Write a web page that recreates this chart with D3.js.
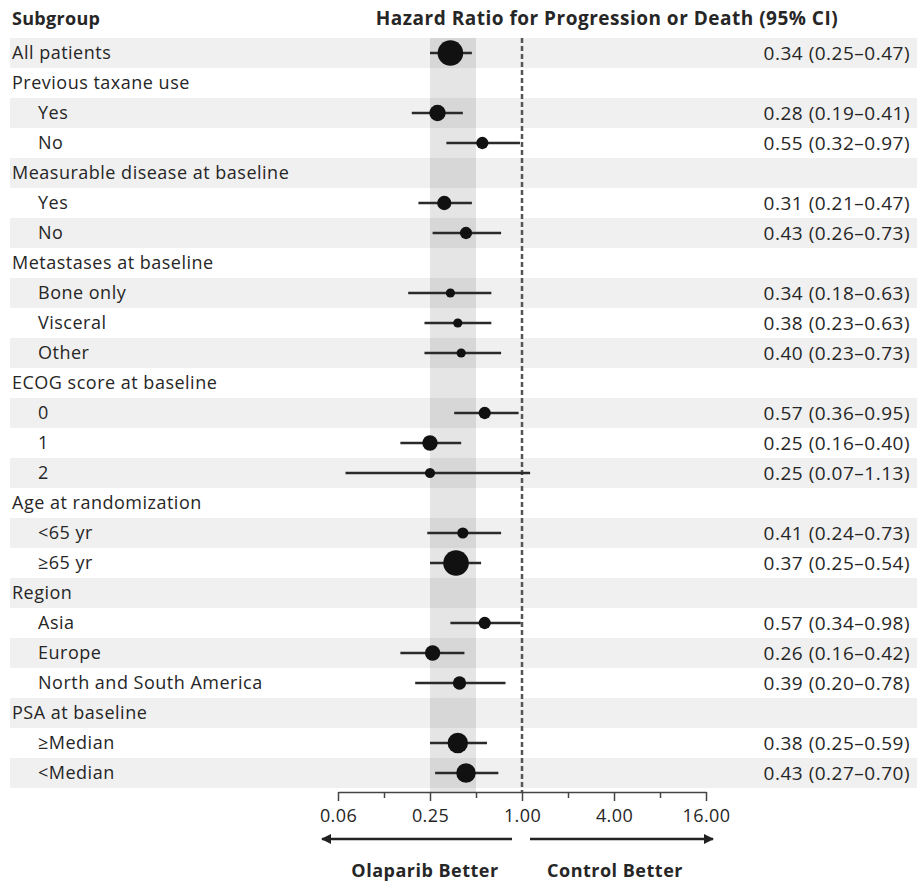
<!DOCTYPE html>
<html>
<head>
<meta charset="utf-8">
<script src="https://cdn.jsdelivr.net/npm/d3@7"></script>
<style>
  body { margin: 0; background: #fff; }
  text { font-family: "Open Sans", sans-serif; fill: #262626; }
</style>
</head>
<body>
<svg></svg>
<script>
// rows of the forest plot, top to bottom
var labels = ['All patients', 'Previous taxane use', 'Yes', 'No', 'Measurable disease at baseline', 'Yes', 'No',
  'Metastases at baseline', 'Bone only', 'Visceral', 'Other', 'ECOG score at baseline', '0', '1', '2',
  'Age at randomization', '<65 yr', '\u226565 yr', 'Region', 'Asia', 'Europe', 'North and South America',
  'PSA at baseline', '\u2265Median', '<Median'];
var levels = [0, 0, 1, 1, 0, 1, 1, 0, 1, 1, 1, 0, 1, 1, 1, 0, 1, 1, 0, 1, 1, 1, 0, 1, 1];
var hr    = [0.34, null, 0.28, 0.55, null, 0.31, 0.43, null, 0.34, 0.38, 0.40, null, 0.57, 0.25, 0.25, null, 0.41, 0.37, null, 0.57, 0.26, 0.39, null, 0.38, 0.43];
var lower = [0.25, null, 0.19, 0.32, null, 0.21, 0.26, null, 0.18, 0.23, 0.23, null, 0.36, 0.16, 0.07, null, 0.24, 0.25, null, 0.34, 0.16, 0.20, null, 0.25, 0.27];
var upper = [0.47, null, 0.41, 0.97, null, 0.47, 0.73, null, 0.63, 0.63, 0.73, null, 0.95, 0.40, 1.13, null, 0.73, 0.54, null, 0.98, 0.42, 0.78, null, 0.59, 0.70];
// relative weight of each subgroup (marker area)
var weights = [100, null, 41, 23, null, 31, 23, null, 13, 13, 13, null, 23, 36, 16, null, 19, 100, null, 23, 36, 27, null, 64, 58];
var tickValues = [0.0625, 0.125, 0.25, 0.5, 1, 2, 4, 8, 16];
var tickLabels = ['0.06', '', '0.25', '', '1.00', '', '4.00', '', '16.00'];

var width = 917, height = 882;
var rows = labels.map(function(l, i) {
  return {i: i, label: l, level: levels[i], hr: hr[i], lo: lower[i], hi: upper[i], w: weights[i]};
});

var svg = d3.select('svg').attr('width', width).attr('height', height);

var x = d3.scaleLog().base(2).domain([0.0625, 16]).range([338, 706]);
var y = d3.scaleBand().domain(d3.range(rows.length)).range([38, 38 + rows.length * 30]);
var r = d3.scaleSqrt().domain([0, 100]).range([0, 12.8]);
var axisY = 792;
var fmt = d3.format('.2f');

// striped rows
svg.append('g').selectAll('rect')
  .data(rows.filter(function(d) { return d.i % 2 === 0; }))
  .enter().append('rect')
    .attr('x', 10)
    .attr('y', function(d) { return y(d.i); })
    .attr('width', width - 10)
    .attr('height', y.bandwidth())
    .attr('fill', '#f0f0f0');

// shaded band 0.25 - 0.5
svg.append('rect')
  .attr('x', x(0.25))
  .attr('y', y(0))
  .attr('width', x(0.5) - x(0.25))
  .attr('height', axisY - y(0))
  .attr('fill', '#000')
  .attr('fill-opacity', 0.1);

// reference line at 1
svg.append('line')
  .attr('x1', x(1)).attr('x2', x(1))
  .attr('y1', y(0)).attr('y2', axisY)
  .attr('stroke', '#555')
  .attr('stroke-width', 2.5)
  .attr('stroke-dasharray', '5,3');

// headers
svg.append('text')
  .text('Subgroup')
  .attr('x', 12).attr('y', 25)
  .style('font-weight', 'bold').style('font-size', '18px').style('letter-spacing', '0.3px');

svg.append('text')
  .text('Hazard Ratio for Progression or Death (95% CI)')
  .attr('x', 607).attr('y', 25)
  .attr('text-anchor', 'middle')
  .style('font-weight', 'bold').style('font-size', '19px').style('letter-spacing', '0.5px');

// labels
svg.append('g').selectAll('text')
  .data(rows)
  .enter().append('text')
    .text(function(d) { return d.label; })
    .attr('x', function(d) { return d.level ? 38 : 12; })
    .attr('y', function(d) { return y(d.i) + y.bandwidth() / 2; })
    .attr('dy', '0.36em')
    .style('font-size', '18px')
    .style('letter-spacing', '0.5px');

var est = rows.filter(function(d) { return d.hr !== null; });

// values column
svg.append('g').selectAll('text')
  .data(est)
  .enter().append('text')
    .text(function(d) { return fmt(d.hr) + ' (' + fmt(d.lo) + '\u2013' + fmt(d.hi) + ')'; })
    .attr('x', 910)
    .attr('y', function(d) { return y(d.i) + y.bandwidth() / 2; })
    .attr('dy', '0.36em')
    .attr('text-anchor', 'end')
    .style('font-size', '19px')
    .style('letter-spacing', '0.5px');

// confidence intervals
svg.append('g').selectAll('line')
  .data(est)
  .enter().append('line')
    .attr('x1', function(d) { return x(d.lo); })
    .attr('x2', function(d) { return x(d.hi); })
    .attr('y1', function(d) { return y(d.i) + y.bandwidth() / 2; })
    .attr('y2', function(d) { return y(d.i) + y.bandwidth() / 2; })
    .attr('stroke', '#2a2a2a')
    .attr('stroke-width', 2.5);

// point estimates
svg.append('g').selectAll('circle')
  .data(est)
  .enter().append('circle')
    .attr('cx', function(d) { return x(d.hr); })
    .attr('cy', function(d) { return y(d.i) + y.bandwidth() / 2; })
    .attr('r', function(d) { return r(d.w); })
    .attr('fill', '#111');

// axis
var axis = svg.append('g')
  .attr('transform', 'translate(0,' + axisY + ')')
  .call(d3.axisBottom(x)
    .tickValues(tickValues)
    .tickFormat(function(d, i) { return tickLabels[i]; })
    .tickSizeOuter(0)
    .tickPadding(6));

axis.select('.domain').attr('stroke', '#444').attr('stroke-width', 1.5);
axis.selectAll('.tick line')
  .attr('stroke', '#444')
  .attr('stroke-width', 1.5)
  .attr('y2', function(d, i) { return tickLabels[i] ? 9 : 6; });
axis.selectAll('.tick text')
  .attr('y', 14)
  .attr('dy', '0.9em')
  .style('font-family', '"Open Sans", sans-serif')
  .style('font-size', '18px')
  .style('letter-spacing', '0.4px')
  .attr('fill', '#262626');

// direction arrows
var arrowY = 839;
svg.append('defs').append('marker')
  .attr('id', 'head')
  .attr('viewBox', '0 0 10 10')
  .attr('refX', 9).attr('refY', 5)
  .attr('markerWidth', 5).attr('markerHeight', 4)
  .attr('markerUnits', 'strokeWidth')
  .attr('orient', 'auto')
  .append('path')
    .attr('d', 'M0,0L10,5L0,10Z')
    .attr('fill', '#222');

svg.append('line')
  .attr('x1', x(1) - 10).attr('x2', x(0.0625) - 16)
  .attr('y1', arrowY).attr('y2', arrowY)
  .attr('stroke', '#222').attr('stroke-width', 2.5)
  .attr('marker-end', 'url(#head)');

svg.append('line')
  .attr('x1', x(1) + 8).attr('x2', x(16) + 7)
  .attr('y1', arrowY).attr('y2', arrowY)
  .attr('stroke', '#222').attr('stroke-width', 2.5)
  .attr('marker-end', 'url(#head)');

svg.append('text')
  .text('Olaparib Better')
  .attr('x', 425).attr('y', 877)
  .attr('text-anchor', 'middle')
  .style('font-weight', 'bold').style('font-size', '18px').style('letter-spacing', '0.5px');

svg.append('text')
  .text('Control Better')
  .attr('x', 615).attr('y', 877)
  .attr('text-anchor', 'middle')
  .style('font-weight', 'bold').style('font-size', '18px').style('letter-spacing', '0.5px');
</script>
</body>
</html>
